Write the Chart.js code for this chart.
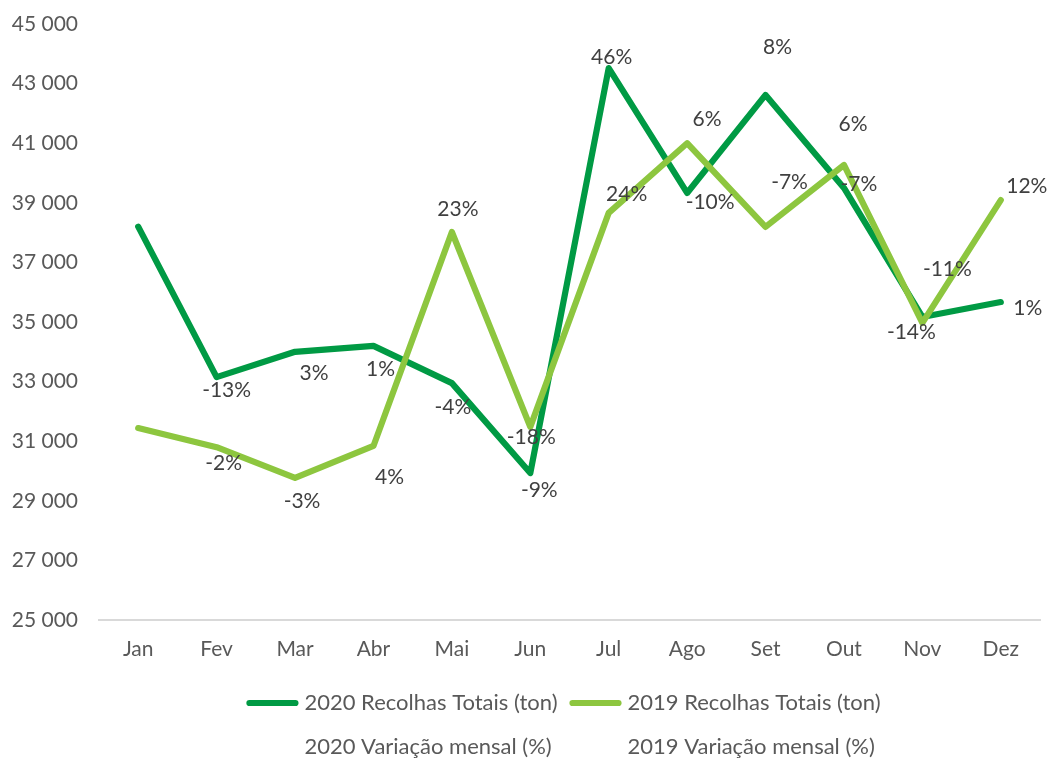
<!DOCTYPE html>
<html>
<head>
<meta charset="utf-8">
<script src="https://cdn.jsdelivr.net/npm/chart.js@4/dist/chart.umd.min.js"></script>
<style>
  html, body { margin: 0; padding: 0; background: #fff; }
  #wrap { width: 1051px; height: 758px; }
</style>
</head>
<body>
<div id="wrap"><canvas id="chart" width="1051" height="758"></canvas></div>
<script>
// meses
const months = ['Jan', 'Fev', 'Mar', 'Abr', 'Mai', 'Jun', 'Jul', 'Ago', 'Set', 'Out', 'Nov', 'Dez'];

// recolhas totais (ton)
const totals2020 = [38200, 33150, 34000, 34200, 32950, 29930, 43520, 39330, 42620, 39500, 35170, 35670];
const totals2019 = [31440, 30800, 29770, 30840, 38020, 31480, 38660, 41000, 38190, 40270, 34970, 39090];

// variação mensal (%)
const variation2020 = [null, -13, 3, 1, -4, -9, 46, -10, 8, -7, -11, 1];
const variation2019 = [null, -2, -3, 4, 23, -18, 24, 6, -7, 6, -14, 12];

// deslocamento dos rótulos em relação ao ponto [dx, dy]
const labelNudge2020 = [null, [10, 13], [19, 21], [7, 23], [1, 24], [9, 17], [3, -11], [23, 9], [12, -48], [15, -4], [25, -48], [27, 6]];
const labelNudge2019 = [null, [7, 16], [7, 23], [16, 31], [6, -23], [1, 10], [18, -19], [20, -24], [24, -45], [9, -41], [-11, 9], [26, -14]];

const DARK = '#009A44';
const LIGHT = '#8DC63F';
const FONT = 'Lato, "Open Sans", sans-serif';
const LINE_W = 6.2;

const fmt = v => String(v).replace(/\B(?=(\d{3})+(?!\d))/g, ' ');

// rótulos de variação desenhados junto aos pontos
const variationLabels = {
  id: 'variationLabels',
  afterDatasetsDraw(chart) {
    const ctx = chart.ctx;
    ctx.save();
    ctx.font = '21px ' + FONT;
    ctx.fillStyle = '#404040';
    ctx.textAlign = 'center';
    ctx.textBaseline = 'middle';
    chart.data.datasets.forEach((ds, i) => {
      if (!ds.variation) return;
      const meta = chart.getDatasetMeta(i);
      meta.data.forEach((pt, j) => {
        const v = ds.variation[j];
        if (v === null || v === undefined) return;
        const n = ds.nudge[j] || [0, 0];
        ctx.fillText(v + '%', pt.x + n[0], pt.y + n[1]);
      });
    });
    ctx.restore();
  }
};

// legenda em grelha de 2 colunas, como no Excel
const gridLegend = {
  id: 'gridLegend',
  afterDraw(chart) {
    const ctx = chart.ctx;
    const area = chart.chartArea;
    const items = chart.data.datasets;
    ctx.save();
    ctx.font = '22px ' + FONT;
    const lineW = 52;
    const gap = 6;
    let maxW = 0;
    items.forEach(ds => {
      maxW = Math.max(maxW, lineW + gap + ctx.measureText(ds.label).width);
    });
    const pitch = maxW + 12;
    const center = (area.left + area.right) / 2;
    const rows = [703, 747];
    items.forEach((ds, i) => {
      const x = center - pitch + (i % 2) * pitch;
      const y = rows[Math.floor(i / 2)];
      if (!ds.variation) {
        ctx.strokeStyle = ds.borderColor;
        ctx.lineWidth = LINE_W;
        ctx.lineCap = 'round';
        ctx.beginPath();
        ctx.moveTo(x + 3, y);
        ctx.lineTo(x + lineW - 3, y);
        ctx.stroke();
      }
      ctx.fillStyle = '#595959';
      ctx.textAlign = 'left';
      ctx.textBaseline = 'middle';
      ctx.fillText(ds.label, x + lineW + gap, y);
    });
    ctx.restore();
  }
};

function draw() {
  new Chart(document.getElementById('chart'), {
    type: 'line',
    data: {
      labels: months,
      datasets: [
        {
          label: '2020 Recolhas Totais (ton)',
          data: totals2020,
          borderColor: DARK,
          backgroundColor: DARK,
          borderWidth: LINE_W,
          borderCapStyle: 'round',
          borderJoinStyle: 'round',
          pointRadius: 0,
          tension: 0,
          order: 2
        },
        {
          label: '2019 Recolhas Totais (ton)',
          data: totals2019,
          borderColor: LIGHT,
          backgroundColor: LIGHT,
          borderWidth: LINE_W,
          borderCapStyle: 'round',
          borderJoinStyle: 'round',
          pointRadius: 0,
          tension: 0,
          order: 1
        },
        {
          label: '2020 Variação mensal (%)',
          data: totals2020,
          variation: variation2020,
          nudge: labelNudge2020,
          showLine: false,
          pointRadius: 0,
          borderColor: 'transparent',
          order: 3
        },
        {
          label: '2019 Variação mensal (%)',
          data: totals2019,
          variation: variation2019,
          nudge: labelNudge2019,
          showLine: false,
          pointRadius: 0,
          borderColor: 'transparent',
          order: 4
        }
      ]
    },
    options: {
      responsive: false,
      animation: false,
      layout: {
        autoPadding: false,
        padding: { top: 24, right: 11, bottom: 96, left: 12 }
      },
      scales: {
        x: {
          offset: true,
          grid: { display: false, offset: true, drawTicks: false },
          border: { color: '#d9d9d9', width: 2 },
          ticks: {
            color: '#595959',
            font: { family: FONT, size: 21 },
            padding: 17,
            maxRotation: 0
          },
          afterFit: s => {
            s.height = 42;
            s.paddingLeft = 0;
            s.paddingRight = 0;
          }
        },
        y: {
          min: 25000,
          max: 45000,
          grid: { display: false, drawTicks: false },
          border: { display: false },
          ticks: {
            stepSize: 2000,
            color: '#595959',
            font: { family: FONT, size: 21 },
            padding: 21,
            callback: v => fmt(v)
          },
          afterFit: s => {
            s.width = 87;
            s.paddingTop = 12;
            s.paddingBottom = 12;
          }
        }
      },
      plugins: {
        legend: { display: false },
        tooltip: { enabled: false }
      }
    },
    plugins: [variationLabels, gridLegend]
  });
}

document.fonts.load('21px Lato').then(draw, draw);
</script>
</body>
</html>
